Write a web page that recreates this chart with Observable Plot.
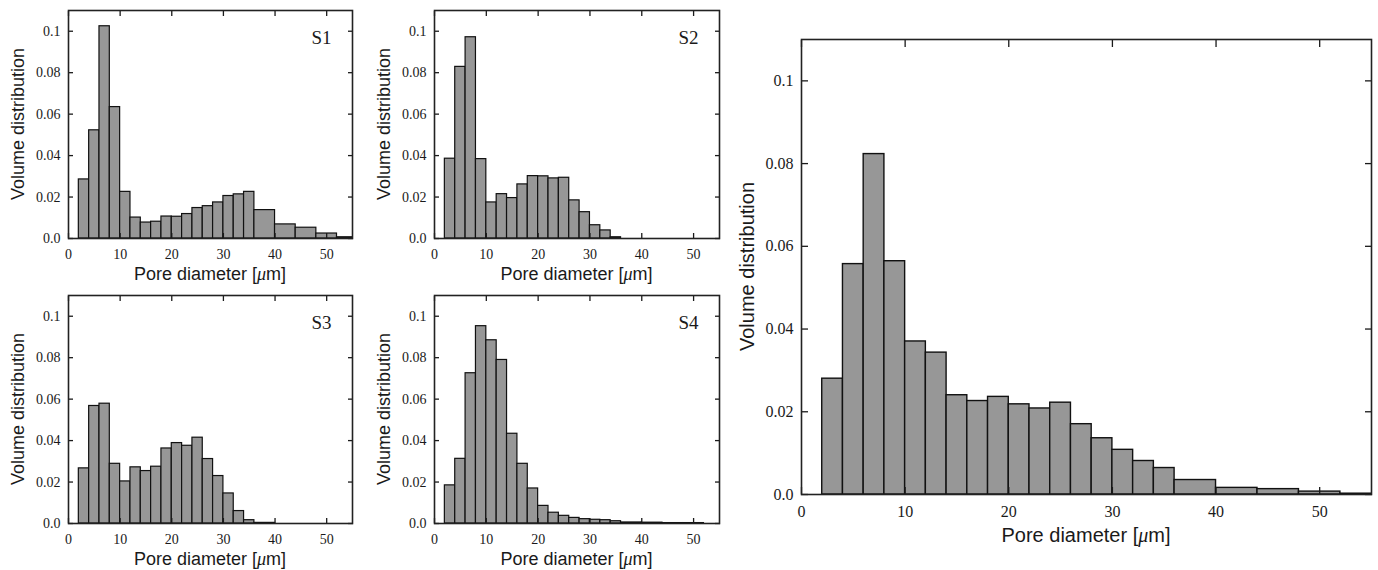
<!DOCTYPE html>
<html>
<head>
<meta charset="utf-8">
<script src="https://cdn.jsdelivr.net/npm/d3@7"></script>
<script src="https://cdn.jsdelivr.net/npm/@observablehq/plot@0.6"></script>
<style>
  html, body { margin: 0; padding: 0; background: #fff; }
  #wrap { position: relative; width: 1378px; height: 570px; overflow: hidden; }
  .panel { position: absolute; }
</style>
</head>
<body>
<div id="wrap"></div>
<script>
// ---- data (bin edges in µm, volume distribution per bin) ----
const edgesWide = [2,4,6,8,10,12,14,16,18,20,22,24,26,28,30,32,34,36,40,44,48,52,56];
const edgesS2   = [2,4,6,8,10,12,14,16,18,20,22,24,26,28,30,32,34,36];
const edgesS3   = [2,4,6,8,10,12,14,16,18,20,22,24,26,28,30,32,34,36,40];

const valuesS1  = [0.0285,0.0522,0.1024,0.0634,0.0225,0.0101,0.0077,0.0081,0.0106,0.0105,0.0118,0.0147,0.0156,0.0174,0.0205,0.0213,0.0225,0.0137,0.0068,0.0052,0.0024,0.0006];
const valuesS2  = [0.0385,0.0828,0.0971,0.0383,0.0174,0.0214,0.0195,0.0261,0.0301,0.0300,0.0290,0.0293,0.0184,0.0127,0.0064,0.0039,0.0006];
const valuesS3  = [0.0266,0.0567,0.0578,0.0288,0.0203,0.0271,0.0253,0.0274,0.0362,0.0388,0.0375,0.0414,0.0311,0.0229,0.0145,0.0060,0.0016,0.0003];
const valuesS4  = [0.0184,0.0312,0.0725,0.0952,0.0884,0.0789,0.0433,0.0288,0.0169,0.0085,0.0052,0.0037,0.0027,0.0021,0.0018,0.0016,0.0011,0.0005,0.0004,0.0002,0.0002,0.0000];
const valuesAll = [0.0280,0.0557,0.0823,0.0564,0.0370,0.0343,0.0240,0.0226,0.0236,0.0218,0.0208,0.0222,0.0170,0.0136,0.0108,0.0081,0.0064,0.0035,0.0016,0.0013,0.0007,0.0002];

const xTicks = [0,10,20,30,40,50];
const yTicks = [0,0.02,0.04,0.06,0.08,0.1];
const xLabel = ["Pore diameter [", "μ", "m]"];
const yLabel = "Volume distribution";

const serif = "'Liberation Serif', 'DejaVu Serif', serif";
const sans  = "'Liberation Sans', Arial, sans-serif";
const yFmt = d => d === 0 ? "0.0" : String(d);

function panel(cfg) {
  const data = cfg.values.map((v, i) => ({x1: cfg.edges[i], x2: cfg.edges[i + 1], v}));
  const g = cfg.geo;
  const plot = Plot.plot({
    width: g.w, height: g.h,
    marginLeft: g.mL, marginRight: g.mR, marginTop: g.mT, marginBottom: g.mB,
    style: {background: "transparent", fontFamily: serif, fontSize: g.tickFont + "px", color: "#1a1a1a", overflow: "visible"},
    x: {domain: [0, 55]},
    y: {domain: [0, 0.11]},
    marks: [
      Plot.rect(data, {x1: "x1", x2: "x2", y1: 0, y2: "v", fill: "#979797", stroke: "#111", strokeWidth: g.barStroke, clip: true}),
      // labels
      Plot.axisX(xTicks, {anchor: "bottom", tickSize: 0, tickPadding: g.padX, label: null}),
      Plot.axisY(yTicks, {anchor: "left", tickSize: 0, tickPadding: g.padY, tickFormat: yFmt, label: null}),
      // inward ticks on all four sides
      Plot.axisX(xTicks, {anchor: "bottom", tickSize: -g.tick, tickFormat: () => null, label: null, strokeWidth: 1.3}),
      Plot.axisX(xTicks, {anchor: "top", tickSize: -g.tick, tickFormat: () => null, label: null, strokeWidth: 1.3}),
      Plot.axisY(yTicks, {anchor: "left", tickSize: -g.tick, tickFormat: () => null, label: null, strokeWidth: 1.3}),
      Plot.axisY(yTicks, {anchor: "right", tickSize: -g.tick, tickFormat: () => null, label: null, strokeWidth: 1.3}),
      Plot.frame({stroke: "#222", strokeWidth: 1.6}),
      cfg.name ? Plot.text([cfg.name], {frameAnchor: "top-right", textAnchor: "end", lineAnchor: "bottom", dx: -21, dy: 33, fontSize: 19, fontFamily: serif, fill: "#1a1a1a"}) : null
    ]
  });
  const svg = d3.select(plot);
  const fx = (g.mL + g.w - g.mR) / 2;
  const fy = (g.mT + g.h - g.mB) / 2;
  const t = svg.append("text")
    .attr("x", fx).attr("y", g.h - g.mB + g.xLabOff)
    .attr("text-anchor", "middle")
    .attr("font-family", sans).attr("font-size", g.labFont).attr("fill", "#1a1a1a");
  t.append("tspan").text(xLabel[0]);
  t.append("tspan").attr("font-style", "italic").attr("font-family", serif).text(xLabel[1]);
  t.append("tspan").text(xLabel[2]);
  svg.append("text")
    .attr("transform", `translate(${g.mL - g.yLabOff},${fy}) rotate(-90)`)
    .attr("text-anchor", "middle")
    .attr("font-family", sans).attr("font-size", g.labFont).attr("fill", "#1a1a1a")
    .text(yLabel);
  plot.classList.add("panel");
  plot.style.left = g.left + "px";
  plot.style.top = g.top + "px";
  document.getElementById("wrap").appendChild(plot);
}

const small = {w: 360, h: 285, mT: 10, mB: 47, tickFont: 14, labFont: 18, padX: 11, padY: 8, tick: 5, barStroke: 1.2, xLabOff: 42, yLabOff: 44};
const geoS1 = {...small, left: 0,   top: 0,   mL: 68, mR: 8};
const geoS2 = {...small, w: 362, left: 360, top: 0, mL: 74, mR: 3};
const geoS3 = {...small, left: 0,   top: 285, mL: 68, mR: 8};
const geoS4 = {...small, w: 362, left: 360, top: 285, mL: 74, mR: 3};
const geoAll = {w: 656, h: 570, left: 722, top: 0, mL: 79, mR: 7, mT: 39, mB: 76, tickFont: 16, labFont: 20, padX: 11, padY: 8, tick: 7, barStroke: 1.4, xLabOff: 48, yLabOff: 47};

panel({name: "S1", edges: edgesWide, values: valuesS1, geo: geoS1});
panel({name: "S2", edges: edgesS2,   values: valuesS2, geo: geoS2});
panel({name: "S3", edges: edgesS3,   values: valuesS3, geo: geoS3});
panel({name: "S4", edges: edgesWide, values: valuesS4, geo: geoS4});
panel({name: null, edges: edgesWide, values: valuesAll, geo: geoAll});
</script>
</body>
</html>
